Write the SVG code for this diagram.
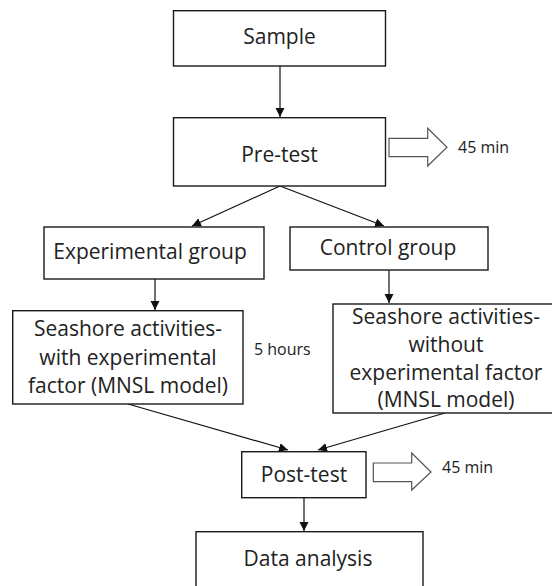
<svg xmlns="http://www.w3.org/2000/svg" width="552" height="586" viewBox="0 0 552 586">
<defs>
<style>
.box{fill:#fff;stroke:#1a1a1a;stroke-width:1.4}
.t{font-family:"Open Sans","Noto Sans",sans-serif;font-size:21px;fill:#222;text-anchor:middle}
.s{font-family:"Open Sans","Noto Sans",sans-serif;font-size:16px;fill:#222}
.c{fill:none;stroke:#111;stroke-width:1.2}
.blk{fill:#fff;stroke:#555;stroke-width:1.2}
</style>
<marker id="ah" markerUnits="userSpaceOnUse" markerWidth="10" markerHeight="10" refX="9" refY="4.5" orient="auto">
<path d="M0,0 L9,4.5 L0,9 z" fill="#111"/>
</marker>
</defs>
<rect width="552" height="586" fill="#fff"/>
<g id="connectors">
<line class="c" x1="280" y1="66" x2="280" y2="117" marker-end="url(#ah)"/>
<line class="c" x1="280" y1="186" x2="192" y2="226" marker-end="url(#ah)"/>
<line class="c" x1="280" y1="186" x2="384" y2="226" marker-end="url(#ah)"/>
<line class="c" x1="155" y1="279" x2="155" y2="310" marker-end="url(#ah)"/>
<line class="c" x1="389" y1="270" x2="389" y2="303" marker-end="url(#ah)"/>
<line class="c" x1="128" y1="404" x2="288" y2="450" marker-end="url(#ah)"/>
<line class="c" x1="445" y1="413" x2="318" y2="450" marker-end="url(#ah)"/>
<line class="c" x1="304" y1="498" x2="304" y2="531" marker-end="url(#ah)"/>
</g>
<g id="sample">
<rect class="box" x="173.5" y="10.7" width="212" height="55.3"/>
<text class="t" x="279.5" y="44">Sample</text>
</g>
<g id="pretest">
<rect class="box" x="173.5" y="117.7" width="212" height="68.3"/>
<text class="t" x="279.5" y="162">Pre-test</text>
</g>
<g id="pretest-time">
<path class="blk" d="M389,138.3 H427.7 V128.3 L447,147.3 L427.7,166 V156.7 H389 z"/>
<text class="s" x="458" y="153">45 min</text>
</g>
<g id="experimental">
<rect class="box" x="44" y="227" width="220" height="52"/>
<text class="t" x="150" y="259">Experimental group</text>
</g>
<g id="control">
<rect class="box" x="290" y="227" width="198" height="43"/>
<text class="t" x="388" y="255">Control group</text>
</g>
<g id="seashore-with">
<rect class="box" x="12.7" y="310.7" width="230.3" height="93.3"/>
<text class="t" x="128" y="336">Seashore activities-</text>
<text class="t" x="128" y="364.5">with experimental</text>
<text class="t" x="128" y="393">factor (MNSL model)</text>
</g>
<g id="duration">
<text class="s" x="254" y="355">5 hours</text>
</g>
<g id="seashore-without">
<rect class="box" x="333" y="304" width="227" height="109"/>
<text class="t" x="446" y="323.5">Seashore activities-</text>
<text class="t" x="446" y="351.5">without</text>
<text class="t" x="446" y="379.5">experimental factor</text>
<text class="t" x="446" y="407">(MNSL model)</text>
</g>
<g id="posttest">
<rect class="box" x="241.7" y="451.7" width="124.3" height="46"/>
<text class="t" x="304" y="482">Post-test</text>
</g>
<g id="posttest-time">
<path class="blk" d="M373.3,463 H411.7 V453 L431,472 L411.7,490 V481.7 H373.3 z"/>
<text class="s" x="442" y="473">45 min</text>
</g>
<g id="analysis">
<rect class="box" x="196" y="531.7" width="227" height="70"/>
<text class="t" x="308" y="566">Data analysis</text>
</g>
</svg>
